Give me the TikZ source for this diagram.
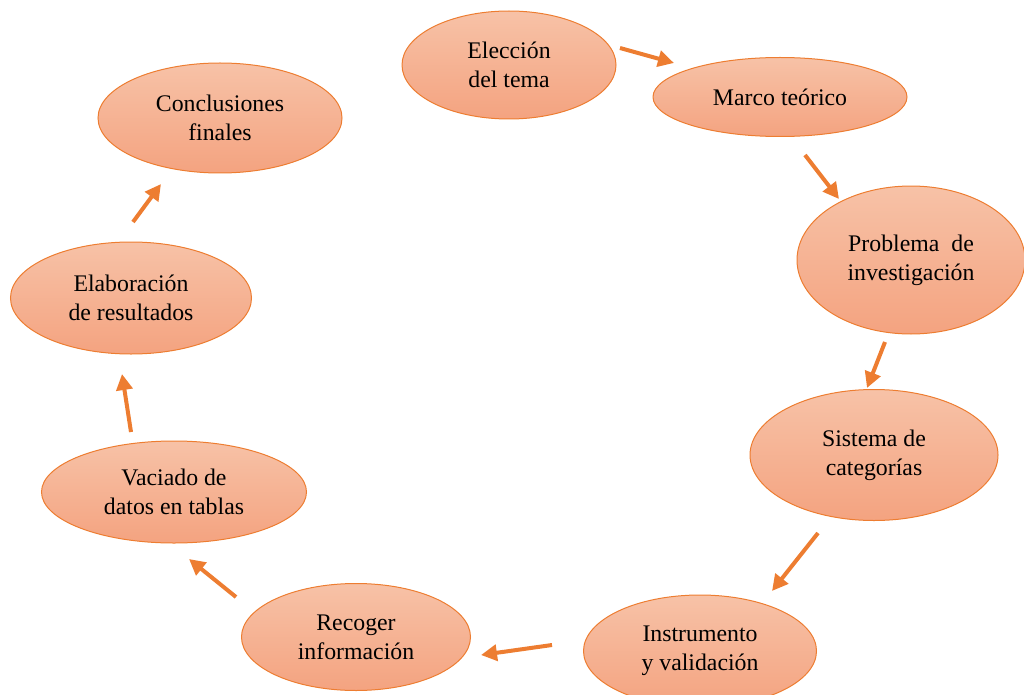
\documentclass[tikz,border=0pt]{standalone}
\usepackage{fontspec}
\setmainfont{Liberation Serif}
\usetikzlibrary{shapes.geometric,arrows.meta}
\definecolor{edgeor}{HTML}{ED7D31}
\definecolor{filltop}{HTML}{F7C2A7}
\definecolor{fillbot}{HTML}{F4A380}
\tikzset{
  stage/.style={ellipse, draw=edgeor, line width=1pt, top color=filltop, bottom color=fillbot,
    inner sep=0pt, align=center, font=\fontsize{23.8}{29}\selectfont},
  flow/.style={draw=edgeor, line width=4pt, -{Triangle[length=16pt,width=16pt]}}
}
\begin{document}
\begin{tikzpicture}[x=1pt,y=-1pt]
\useasboundingbox (0,0) rectangle (1024,695);
\node[stage, minimum width=214pt, minimum height=108pt] (e1) at (509,65) {Elección\\del tema};
\node[stage, minimum width=254pt, minimum height=79pt] (e2) at (780,97) {Marco teórico};
\node[stage, minimum width=228pt, minimum height=148pt] (e3) at (911,260) {Problema\ \ de\\investigación};
\node[stage, minimum width=248pt, minimum height=131pt] (e4) at (874,455) {Sistema de\\categorías};
\node[stage, minimum width=233pt, minimum height=112pt] (e5) at (700,651) {Instrumento\\y validación};
\node[stage, minimum width=229pt, minimum height=107pt] (e6) at (356,637) {Recoger\\información};
\node[stage, minimum width=265pt, minimum height=102pt] (e7) at (174,492) {Vaciado de\\datos en tablas};
\node[stage, minimum width=241pt, minimum height=112pt] (e8) at (131,298) {Elaboración\\de resultados};
\node[stage, minimum width=244pt, minimum height=110pt] (e9) at (220,118) {Conclusiones\\finales};
\coordinate (a1s) at (620,48);  \coordinate (a1e) at (674,63);
\coordinate (a2s) at (805,155); \coordinate (a2e) at (839,199);
\coordinate (a3s) at (885,342); \coordinate (a3e) at (867,388);
\coordinate (a4s) at (818,533); \coordinate (a4e) at (772,591);
\coordinate (a5s) at (552,645); \coordinate (a5e) at (481,655);
\coordinate (a6s) at (236,597); \coordinate (a6e) at (189,559);
\coordinate (a7s) at (131,432); \coordinate (a7e) at (122,374);
\coordinate (a8s) at (133,222); \coordinate (a8e) at (161,184);
\draw[flow] (a1s) -- (a1e);
\draw[flow] (a2s) -- (a2e);
\draw[flow] (a3s) -- (a3e);
\draw[flow] (a4s) -- (a4e);
\draw[flow] (a5s) -- (a5e);
\draw[flow] (a6s) -- (a6e);
\draw[flow] (a7s) -- (a7e);
\draw[flow] (a8s) -- (a8e);
\end{tikzpicture}
\end{document}
